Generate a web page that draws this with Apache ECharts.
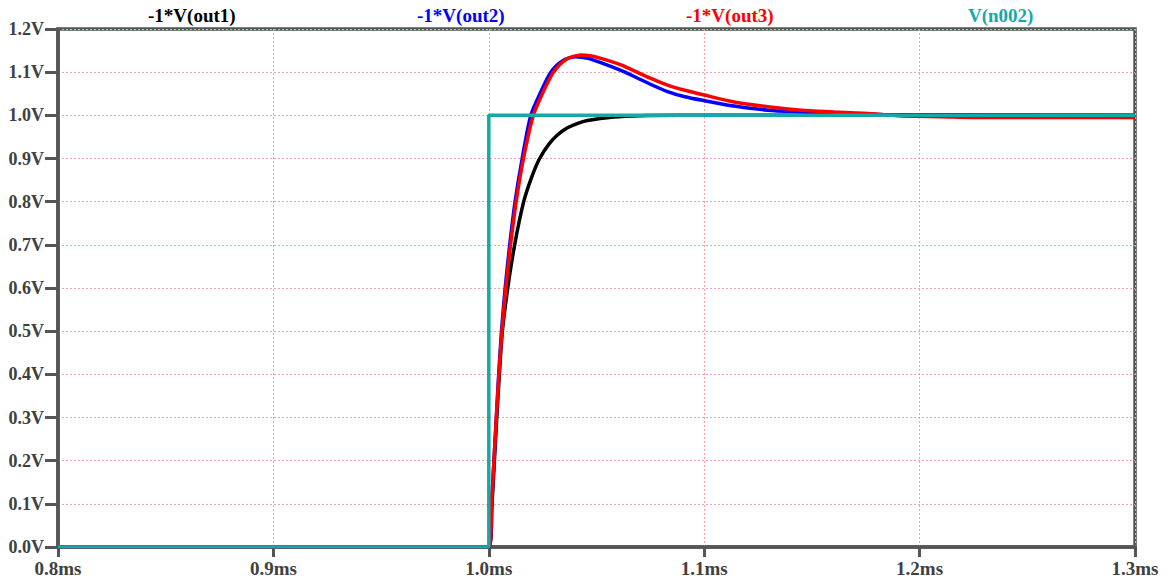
<!DOCTYPE html>
<html>
<head>
<meta charset="utf-8">
<script src="https://cdn.jsdelivr.net/npm/echarts@6/dist/echarts.min.js"></script>
<style>
  html, body { margin: 0; padding: 0; background: #fff; }
  #chart { width: 1171px; height: 581px; }
</style>
</head>
<body>
<div id="chart"></div>
<script>
  // time in ms, voltage in V
  const xTicks = [0.8, 0.9, 1.0, 1.1, 1.2, 1.3]
  const yTicks = [0.0, 0.1, 0.2, 0.3, 0.4, 0.5, 0.6, 0.7, 0.8, 0.9, 1.0, 1.1, 1.2]
  const names = ['-1*V(out1)', '-1*V(out2)', '-1*V(out3)', 'V(n002)']

  const out1Time = [0.8, 1.0, 1.0015, 1.0026, 1.0037, 1.0049, 1.0063, 1.0088, 1.0120, 1.0162, 1.0200, 1.0236, 1.028, 1.0320, 1.0365, 1.0410, 1.0458, 1.058, 1.070, 1.088, 1.3]
  const out1Volt = [0, 0, 0.1, 0.2, 0.3, 0.4, 0.5, 0.6, 0.7, 0.8, 0.858, 0.9, 0.934, 0.955, 0.971, 0.981, 0.988, 0.996, 0.999, 1.0, 1.0]

  const out2Time = [0.8, 1.0, 1.0013, 1.0024, 1.0035, 1.0046, 1.0059, 1.0076, 1.0097, 1.0122, 1.0155, 1.0195, 1.0240, 1.0288, 1.0345, 1.0404, 1.046, 1.052, 1.0613, 1.0675, 1.075, 1.083, 1.091, 1.1, 1.1139, 1.1294, 1.145, 1.160, 1.183, 1.3]
  const out2Volt = [0, 0, 0.1, 0.2, 0.3, 0.4, 0.5, 0.6, 0.7, 0.8, 0.9, 1.0, 1.053, 1.1, 1.127, 1.136, 1.132, 1.122, 1.104, 1.090, 1.072, 1.055, 1.043, 1.034, 1.0215, 1.012, 1.008, 1.005, 1.002, 1.0]

  const out3Time = [0.8, 1.0, 1.0013, 1.0024, 1.0035, 1.0047, 1.0061, 1.0079, 1.0101, 1.0127, 1.0161, 1.0207, 1.0257, 1.0300, 1.0360, 1.0427, 1.047, 1.052, 1.0613, 1.0675, 1.075, 1.083, 1.091, 1.1, 1.1139, 1.1294, 1.145, 1.1604, 1.176, 1.19, 1.21, 1.23, 1.3]
  const out3Volt = [0, 0, 0.1, 0.2, 0.3, 0.4, 0.5, 0.6, 0.7, 0.8, 0.9, 1.0, 1.059, 1.10, 1.13, 1.14, 1.138, 1.132, 1.117, 1.103, 1.086, 1.070, 1.058, 1.047, 1.031, 1.020, 1.012, 1.008, 1.004, 0.999, 0.997, 0.995, 0.995]

  const n002Time = [0.8, 1.0, 1.0, 1.3]
  const n002Volt = [0, 0, 1.0, 1.0]

  const colors = ['#000000', '#0000ff', '#ff0000', '#14a9a9']
  const legendLeft = [143, 412, 681, 963]

  function zip(ts, vs) {
    return ts.map((t, i) => [t, vs[i]])
  }

  const axisColor = '#555457'
  const gridLine = { show: true, lineStyle: { color: '#f4a3a3', width: 1, type: [2, 2] } }
  const labelFont = { fontFamily: 'Liberation Serif', fontWeight: 'bold', fontSize: 19, color: '#404040' }

  let myChart = echarts.init(document.getElementById('chart'), null, { renderer: 'svg' })
  myChart.setOption({
    animation: false,
    backgroundColor: '#fff',
    grid: {
      left: 58, right: 36, top: 29, bottom: 34,
      show: true,
      borderColor: axisColor,
      borderWidth: 3.5
    },
    legend: names.map((n, i) => ({
      data: [n],
      left: legendLeft[i],
      top: 6,
      padding: 0,
      icon: 'none',
      itemWidth: 0,
      selectedMode: false,
      textStyle: { fontFamily: 'Liberation Serif', fontWeight: 'bold', fontSize: 19, color: colors[i] }
    })),
    xAxis: {
      type: 'value',
      min: xTicks[0],
      max: xTicks[xTicks.length - 1],
      interval: 0.1,
      axisLine: { show: true, lineStyle: { color: axisColor, width: 3.5 } },
      axisTick: { show: true, length: 10, lineStyle: { color: axisColor, width: 3 } },
      axisLabel: Object.assign({ margin: 12, formatter: v => v.toFixed(1) + 'ms' }, labelFont),
      splitLine: gridLine
    },
    yAxis: {
      type: 'value',
      min: yTicks[0],
      max: yTicks[yTicks.length - 1],
      interval: 0.1,
      axisLine: { show: true, lineStyle: { color: axisColor, width: 3.5 } },
      axisTick: { show: true, length: 13, lineStyle: { color: axisColor, width: 3 } },
      axisLabel: Object.assign({ margin: 14, formatter: v => v.toFixed(1) + 'V' }, labelFont, { fontSize: 18 }),
      splitLine: gridLine
    },
    series: [
      { name: names[0], type: 'line', data: zip(out1Time, out1Volt) },
      { name: names[1], type: 'line', data: zip(out2Time, out2Volt) },
      { name: names[2], type: 'line', data: zip(out3Time, out3Volt) },
      { name: names[3], type: 'line', data: zip(n002Time, n002Volt), smooth: false }
    ].map((s, i) => Object.assign({
      showSymbol: false,
      smooth: 0.25,
      color: colors[i],
      lineStyle: { color: colors[i], width: 3.5 }
    }, s))
  })
</script>
</body>
</html>
